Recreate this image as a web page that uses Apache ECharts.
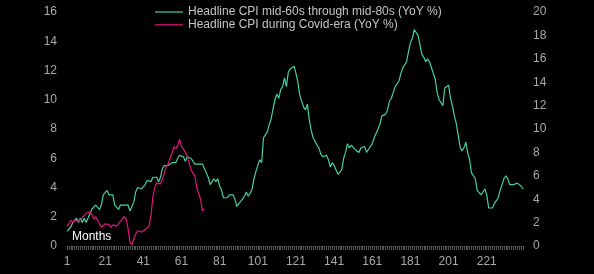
<!DOCTYPE html>
<html>
<head>
<meta charset="utf-8">
<script src="https://cdn.jsdelivr.net/npm/echarts@6/dist/echarts.min.js"></script>
<style>
html,body{margin:0;padding:0;background:#000;}
#c{width:594px;height:274px;}
</style>
</head>
<body>
<div id="c"></div>
<script>
// Month index categories
var months = [];
for (var i = 1; i <= 240; i++) months.push(String(i));

// Headline CPI mid-60s through mid-80s (YoY %), left axis
var cpi6080 = [
  1.0,1.0,1.3,1.6,1.6,1.9,1.6,1.9,1.6,1.9,1.6,1.9,
  1.9,2.5,2.5,2.8,2.8,2.5,2.8,3.5,3.5,3.8,3.5,3.5,
  3.5,2.8,2.8,2.5,2.8,2.8,2.8,2.8,2.8,2.4,2.7,3.0,
  3.7,4.0,3.9,3.9,3.9,4.2,4.5,4.5,4.4,4.7,4.7,4.7,
  4.4,4.7,5.3,5.5,5.5,5.5,5.4,5.7,5.7,5.7,6.0,6.2,
  6.2,6.1,5.8,6.1,6.0,6.0,6.0,5.6,5.7,5.6,5.6,5.6,
  5.3,5.0,4.7,4.2,4.4,4.6,4.4,4.6,4.1,3.8,3.3,3.3,
  3.3,3.5,3.5,3.5,3.2,2.7,2.9,2.9,3.2,3.4,3.7,3.4,
  3.6,3.9,4.6,5.1,5.5,5.9,5.7,7.4,7.4,7.8,8.3,8.7,
  9.4,10.0,10.4,10.1,10.7,10.9,11.5,10.9,11.9,12.1,12.2,12.3,
  11.8,11.2,10.3,10.2,9.5,9.3,9.7,8.6,7.9,7.4,7.4,6.9,
  6.7,6.3,6.1,6.0,6.2,5.9,5.4,5.7,5.5,5.5,4.9,4.9,
  5.2,6.0,6.4,7.0,6.7,6.9,6.8,6.6,6.6,6.4,6.7,6.7,
  6.8,6.4,6.6,6.5,7.0,7.4,7.7,7.8,8.3,8.9,8.9,9.0,
  9.3,9.9,10.1,10.5,10.9,10.9,11.3,11.8,12.2,12.1,12.6,13.3,
  13.9,14.2,14.8,14.7,14.4,14.4,13.1,12.9,12.6,12.8,12.6,12.5,
  11.8,11.4,10.5,10.0,9.8,9.6,10.8,10.8,11.0,10.1,9.6,8.9,
  8.4,7.6,6.8,6.5,6.7,7.1,6.4,5.9,5.0,5.1,4.6,3.8,
  3.7,3.5,3.6,3.9,3.5,2.6,2.5,2.6,2.9,2.9,3.3,3.8,
  4.2,4.6,4.8,4.6,4.2,4.2,4.2,4.3,4.3,4.3,4.1,3.9
];

// Headline CPI during Covid-era (YoY %), right axis
var cpiCovid = [
  1.7,1.9,2.2,2.0,2.2,2.1,
  2.1,2.2,2.4,2.5,2.8,2.9,2.9,2.7,2.3,2.5,2.2,1.9,
  1.6,1.5,1.9,2.0,1.8,1.6,1.8,1.7,1.7,1.8,2.1,2.3,
  2.5,2.3,1.5,0.3,0.1,0.6,1.0,1.3,1.4,1.2,1.2,1.4,
  1.4,1.7,2.6,4.2,5.0,5.4,5.4,5.3,5.4,6.2,6.8,7.0,
  7.5,7.9,8.5,8.3,8.6,9.1,8.5,8.3,8.2,7.7,7.1,6.5,
  6.4,6.0,5.0,4.9,4.0,3.0,3.2
];

var leftTicks = {min: 0, max: 16, interval: 2};
var rightTicks = {min: 0, max: 20, interval: 2};

var seriesNames = [
  'Headline CPI mid-60s through mid-80s (YoY %)',
  'Headline CPI during Covid-era (YoY %)'
];

var FONT = 'Liberation Sans, Arial, sans-serif';
var LINE_ICON = 'path://M0,0L30,0L30,1.3L0,1.3Z';
var chart = echarts.init(document.getElementById('c'), null, {renderer: 'canvas'});
chart.setOption({
  backgroundColor: '#000000',
  animation: false,
  grid: {left: 67, right: 71, top: 12, bottom: 28, containLabel: false},
  legend: {
    orient: 'vertical',
    left: 150,
    top: 1,
    itemWidth: 28,
    itemHeight: 14,
    itemGap: 0.8,
    icon: LINE_ICON,
    textStyle: {color: '#c4c4c4', fontSize: 12, fontFamily: FONT},
    data: seriesNames
  },
  xAxis: {
    type: 'category',
    data: months,
    boundaryGap: false,
    axisLine: {show: true, lineStyle: {color: '#2a2a2a', width: 1}},
    axisTick: {show: true, interval: 0, length: 4, lineStyle: {color: '#555555'}},
    axisLabel: {interval: 19, color: '#a8a8a8', fontSize: 12, fontFamily: FONT, margin: 10},
    splitLine: {show: false}
  },
  yAxis: [
    {
      type: 'value',
      min: leftTicks.min, max: leftTicks.max, interval: leftTicks.interval,
      axisLine: {show: false}, axisTick: {show: false}, splitLine: {show: false},
      axisLabel: {color: '#a8a8a8', fontSize: 12, fontFamily: FONT, margin: 10}
    },
    {
      type: 'value',
      position: 'right',
      min: rightTicks.min, max: rightTicks.max, interval: rightTicks.interval,
      axisLine: {show: false}, axisTick: {show: false}, splitLine: {show: false},
      axisLabel: {color: '#a8a8a8', fontSize: 12, fontFamily: FONT, margin: 10}
    }
  ],
  graphic: [{
    type: 'text',
    left: 72,
    top: 231,
    style: {text: 'Months', fill: '#ffffff', font: '12px ' + FONT}
  }],
  series: [
    {
      name: seriesNames[0],
      type: 'line',
      yAxisIndex: 0,
      data: cpi6080,
      symbol: 'none',
      lineStyle: {color: '#45d19c', width: 1.2},
      itemStyle: {color: '#45d19c'}
    },
    {
      name: seriesNames[1],
      type: 'line',
      yAxisIndex: 1,
      data: cpiCovid,
      symbol: 'none',
      lineStyle: {color: '#e0157f', width: 1.2},
      itemStyle: {color: '#e0157f'}
    }
  ]
});
</script>
</body>
</html>
